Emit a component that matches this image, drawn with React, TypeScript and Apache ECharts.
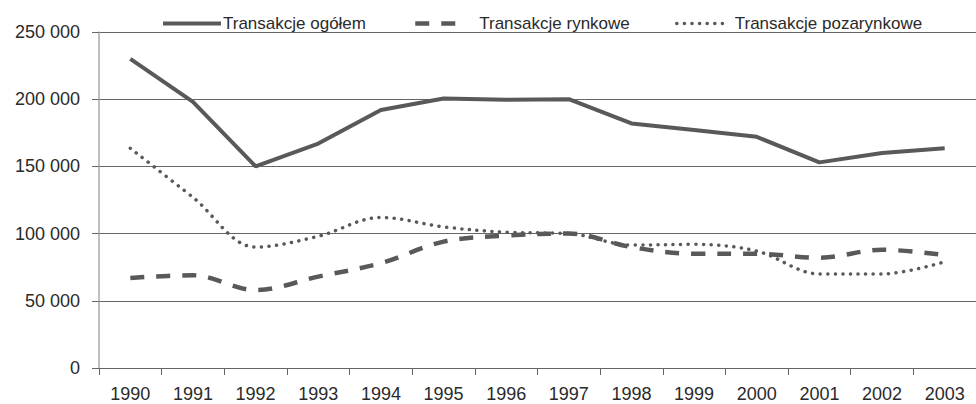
import React, { useEffect, useRef } from "react";
import * as echarts from "echarts";

const years = ["1990", "1991", "1992", "1993", "1994", "1995", "1996", "1997", "1998", "1999", "2000", "2001", "2002", "2003"];
const ogolem = [230000, 198000, 150000, 167000, 192000, 200500, 199500, 200000, 182000, 177000, 172000, 153000, 160000, 163500];
const rynkowe = [67000, 69000, 58000, 68000, 78000, 94000, 98500, 100000, 90000, 85000, 85000, 82000, 88000, 84000];
const pozarynkowe = [163500, 127000, 90000, 98000, 112000, 105000, 101000, 100000, 91500, 92000, 87000, 70000, 70000, 79000];
const seriesNames = ["Transakcje ogółem", "Transakcje rynkowe", "Transakcje pozarynkowe"];

const FONT = "'Liberation Sans', Arial, sans-serif";
const LINE = "#595959";

function fmt(v: number) {
  const s = String(Math.round(v));
  return s.replace(/\B(?=(\d{3})+(?!\d))/g, " ");
}

export default function App() {
  const ref = useRef<HTMLDivElement>(null);
  useEffect(() => {
    if (!ref.current) return;
    const chart = echarts.init(ref.current, null, { renderer: "svg" });
    const legendBase = {
      top: 10,
      itemHeight: 14,
      selectedMode: false,
      itemStyle: { opacity: 0 },
      textStyle: { fontFamily: FONT, fontSize: 17, color: "#2a2a2a" },
    };
    chart.setOption({
      animation: false,
      backgroundColor: "#fff",
      legend: [
        {
          ...legendBase,
          data: [seriesNames[0]],
          left: 156,
          itemWidth: 58,
          lineStyle: { width: 4, color: LINE },
          textStyle: { ...legendBase.textStyle, padding: [0, 0, 0, -3] },
        },
        {
          ...legendBase,
          data: [seriesNames[1]],
          left: 408,
          itemWidth: 44,
          lineStyle: { width: 4.5, color: LINE, type: [14, 12] },
          textStyle: { ...legendBase.textStyle, padding: [0, 0, 0, 15] },
        },
        {
          ...legendBase,
          data: [seriesNames[2]],
          left: 670,
          itemWidth: 53,
          lineStyle: { width: 3.5, color: LINE, type: [0.1, 7.5], cap: "round" },
        },
      ],
      grid: { left: 99, top: 32, right: -9, bottom: 36, containLabel: false },
      xAxis: {
        type: "category",
        data: years,
        boundaryGap: true,
        axisLine: { show: true, lineStyle: { color: "#666", width: 1 } },
        axisTick: { show: true, length: 7, lineStyle: { color: "#666" } },
        axisLabel: { interval: 0, margin: 17, fontFamily: FONT, fontSize: 18, color: "#2a2a2a" },
      },
      yAxis: {
        type: "value",
        min: 0,
        max: 250000,
        interval: 50000,
        axisLine: { show: true, lineStyle: { color: "#aaa", width: 1.5 } },
        axisTick: { show: true, length: 7, lineStyle: { color: "#666" } },
        splitLine: { show: true, lineStyle: { color: "#666", width: 1 } },
        axisLabel: { margin: 19, fontFamily: FONT, fontSize: 18, color: "#2a2a2a", formatter: (v: number) => fmt(v) },
      },
      series: [
        {
          name: seriesNames[0],
          type: "line",
          data: ogolem,
          symbol: "none",
          color: LINE,
          lineStyle: { color: LINE, width: 4 },
        },
        {
          name: seriesNames[1],
          type: "line",
          data: rynkowe,
          symbol: "none",
          smooth: 0.35,
          color: LINE,
          lineStyle: { color: LINE, width: 4.5, type: [14, 12] },
        },
        {
          name: seriesNames[2],
          type: "line",
          data: pozarynkowe,
          symbol: "none",
          smooth: 0.35,
          color: LINE,
          lineStyle: { color: LINE, width: 3.5, type: [0.1, 7.5], cap: "round" },
        },
      ],
    });
    return () => chart.dispose();
  }, []);
  return (
    <div
      ref={ref}
      style={{ position: "fixed", left: 0, top: 0, width: 976, height: 404, background: "#fff" }}
    />
  );
}
